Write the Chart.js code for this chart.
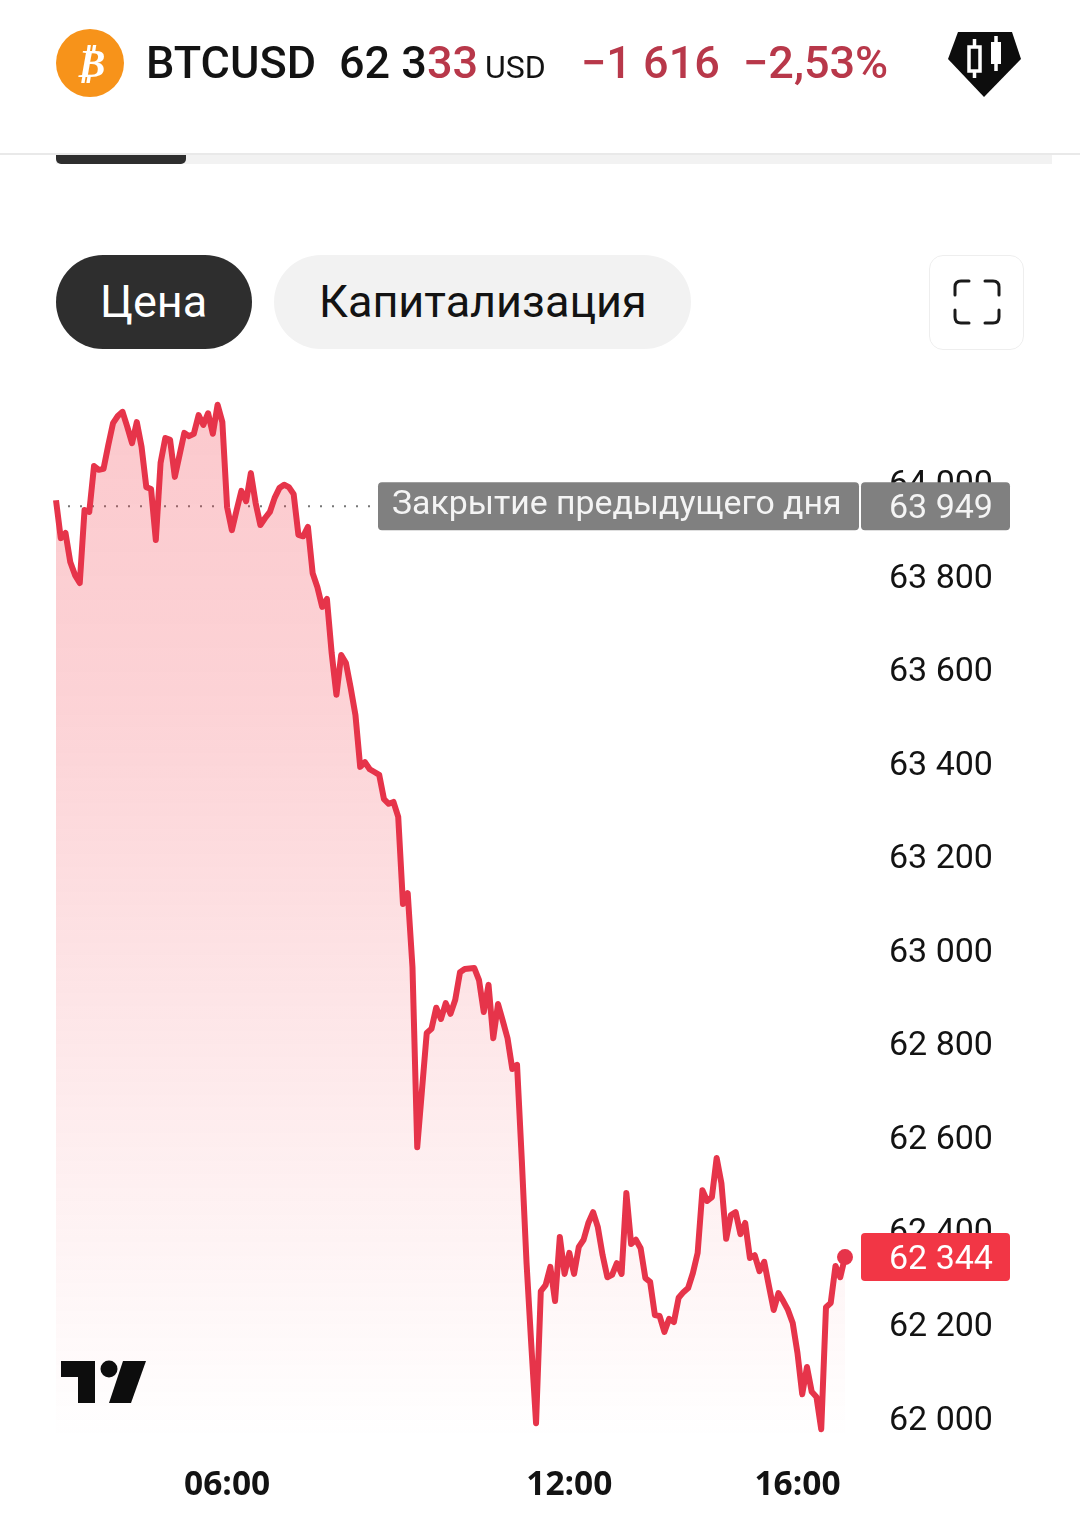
<!DOCTYPE html>
<html lang="ru">
<head>
<meta charset="utf-8">
<title>BTCUSD</title>
<script src="https://cdn.jsdelivr.net/npm/chart.js@4"></script>
<style>
  html, body { margin: 0; padding: 0; background: #fff; }
  body { width: 1080px; height: 1536px; position: relative; overflow: hidden; font-family: Roboto, sans-serif; }
  canvas { position: absolute; left: 0; top: 0; }
  .t { position: absolute; white-space: nowrap; line-height: 1; color: #131313; }
  .red { color: #b8384a; }
  .box { position: absolute; }
  svg { position: absolute; }
</style>
</head>
<body>
<canvas id="grafico" width="1080" height="1536"></canvas>

<!-- cabecera -->
<div class="box" style="left:56px;top:29px;width:68px;height:68px;border-radius:50%;background:#f7931a"></div>
<div class="t" style="left:76px;top:43px;font-size:40px;font-weight:700;font-style:italic;color:#fff;font-family:'DejaVu Sans'">₿</div>
<div class="t" style="left:146px;top:40px;font-size:45px;font-weight:500">BTCUSD</div>
<div class="t" style="left:339px;top:40px;font-size:45px;font-weight:500">62 3<span class="red">33</span></div>
<div class="t" style="left:485px;top:51px;font-size:32px;font-weight:400">USD</div>
<div class="t red" style="left:581px;top:40px;font-size:45px;font-weight:500">−1 616</div>
<div class="t red" style="left:743px;top:40px;font-size:45px;font-weight:500">−2,53%</div>
<svg style="left:945px;top:30px" width="80" height="70" viewBox="0 0 80 70">
  <path d="M13 2H67L76 29L39 67L3 29Z" fill="#0d0d0d"/>
  <rect x="24" y="17" width="11" height="24" fill="none" stroke="#fff" stroke-width="3.5"/>
  <path d="M29.500 9V17M29.500 41V48" stroke="#fff" stroke-width="3.5"/>
  <rect x="46" y="12" width="10" height="22" fill="#fff"/>
  <path d="M51 6V12M51 34V41" stroke="#fff" stroke-width="3.5"/>
</svg>

<div class="box" style="left:0;top:153px;width:1080px;height:2px;background:#e9e9e9"></div>
<div class="box" style="left:56px;top:155px;width:996px;height:9px;background:#f2f2f2"></div>
<div class="box" style="left:56px;top:155px;width:130px;height:9px;background:#2e2e2e;border-radius:0 0 5px 5px"></div>

<!-- botones -->
<div class="box" style="left:56px;top:255px;width:196px;height:94px;border-radius:47px;background:#2e2e2e"></div>
<div class="t" style="left:100px;top:279px;font-size:45px;color:#fff">Цена</div>
<div class="box" style="left:274px;top:255px;width:417px;height:94px;border-radius:47px;background:#f2f2f2"></div>
<div class="t" style="left:319px;top:279px;font-size:45px">Капитализация</div>
<div class="box" style="left:929px;top:255px;width:93px;height:93px;border-radius:14px;border:1.500px solid #eeeeee;box-sizing:content-box"></div>
<svg style="left:950px;top:276px" width="54" height="52" viewBox="0 0 54 52" fill="none" stroke="#1a1a1a" stroke-width="3" stroke-linecap="round">
  <path d="M5 19V11Q5 5 11 5H19M35 5H43Q49 5 49 11V19M49 34V41Q49 47 43 47H35M19 47H11Q5 47 5 41V34"/>
</svg>

<!-- logo -->
<svg style="left:0;top:1340px" width="170" height="80" viewBox="0 1340 170 80">
  <path d="M61 1361H95V1403H78V1377H61Z" fill="#0d0d0d"/>
  <circle cx="109" cy="1369" r="8.500" fill="#0d0d0d"/>
  <path d="M123 1361H146L131 1403H109Z" fill="#0d0d0d"/>
</svg>

<script>
// precios cada 5 minutos
const horas = [
  '03:00','03:05','03:10','03:15','03:20','03:25','03:30','03:35','03:40','03:45','03:50','03:55',
  '04:00','04:05','04:10','04:15','04:20','04:25','04:30','04:35','04:40','04:45','04:50','04:55',
  '05:00','05:05','05:10','05:15','05:20','05:25','05:30','05:35','05:40','05:45','05:50','05:55',
  '06:00','06:05','06:10','06:15','06:20','06:25','06:30','06:35','06:40','06:45','06:50','06:55',
  '07:00','07:05','07:10','07:15','07:20','07:25','07:30','07:35','07:40','07:45','07:50','07:55',
  '08:00','08:05','08:10','08:15','08:20','08:25','08:30','08:35','08:40','08:45','08:50','08:55',
  '09:00','09:05','09:10','09:15','09:20','09:25','09:30','09:35','09:40','09:45','09:50','09:55',
  '10:00','10:05','10:10','10:15','10:20','10:25','10:30','10:35','10:40','10:45','10:50','10:55',
  '11:00','11:05','11:10','11:15','11:20','11:25','11:30','11:35','11:40','11:45','11:50','11:55',
  '12:00','12:05','12:10','12:15','12:20','12:25','12:30','12:35','12:40','12:45','12:50','12:55',
  '13:00','13:05','13:10','13:15','13:20','13:25','13:30','13:35','13:40','13:45','13:50','13:55',
  '14:00','14:05','14:10','14:15','14:20','14:25','14:30','14:35','14:40','14:45','14:50','14:55',
  '15:00','15:05','15:10','15:15','15:20','15:25','15:30','15:35','15:40','15:45','15:50','15:55',
  '16:00','16:05','16:10','16:15','16:20','16:25','16:30','16:35','16:40','16:45','16:50'
];
const precios = [
  63962,63881,63892,63830,63802,63785,63941,63937,64035,64027,64029,64080,
  64127,64142,64151,64119,64084,64129,64076,63990,63986,63877,64042,64095,
  64091,64012,64059,64106,64099,64104,64144,64123,64148,64104,64166,64129,
  63947,63898,63941,63982,63960,64020,63956,63909,63924,63937,63967,63988,
  63995,63990,63975,63888,63885,63905,63806,63776,63734,63751,63635,63546,
  63631,63614,63561,63503,63392,63402,63387,63381,63375,63323,63313,63317,
  63285,63099,63122,62964,62579,62701,62823,62832,62877,62853,62887,62864,
  62894,62953,62960,62961,62962,62936,62868,62926,62812,62885,62849,62812,
  62746,62755,62552,62331,62156,61989,62271,62284,62323,62250,62387,62308,
  62353,62308,62366,62381,62417,62440,62408,62348,62301,62306,62331,62308,
  62481,62372,62381,62363,62299,62291,62220,62218,62184,62212,62205,62257,
  62269,62278,62310,62353,62487,62464,62472,62556,62502,62383,62434,62440,
  62393,62417,62342,62348,62314,62334,62282,62231,62267,62250,62231,62203,
  62139,62051,62109,62056,62045,61976,62237,62246,62325,62301,62344
];
const cierreAnterior = 63949;
const ultimoPrecio = 62344;
const horasEje = ['06:00','12:00','16:00'];
const ticksPrecio = [62000,62200,62400,62600,62800,63000,63200,63400,63600,63800,64000];
const textoCierre = 'Закрытие предыдущего дня';

const rojo = '#e6344a';

function fmt(v) {
  return String(v).replace(/(\d{2})(\d{3})/, '$1 $2');
}

function badge(ctx, x, y, w, h, color) {
  ctx.fillStyle = color;
  ctx.beginPath();
  ctx.roundRect(x, y, w, h, 4);
  ctx.fill();
}

// etiquetas sobre el eje de precios
const etiquetas = {
  id: 'etiquetas',
  afterDraw(chart) {
    const ctx = chart.ctx;
    const y = chart.scales.y;
    const yc = y.getPixelForValue(cierreAnterior);
    const yu = y.getPixelForValue(ultimoPrecio);
    ctx.save();
    badge(ctx, 378, yc - 24, 481, 48, '#808080');
    badge(ctx, 861, yc - 24, 149, 48, '#808080');
    badge(ctx, 861, yu - 24, 149, 48, '#f23645');
    ctx.textBaseline = 'middle';
    ctx.textAlign = 'left';
    ctx.fillStyle = '#f4f4f4';
    ctx.font = '400 33.800px Roboto';
    ctx.fillText(textoCierre, 392, yc - 1);
    ctx.font = '400 34px Roboto';
    ctx.fillText(fmt(cierreAnterior), 889, yc + 3);
    ctx.fillStyle = '#fff';
    ctx.fillText(fmt(ultimoPrecio), 889, yu + 3);
    ctx.restore();
  }
};

const graficoG = document.getElementById('grafico');
new Chart(graficoG, {
  type: 'line',
  data: {
    labels: horas,
    datasets: [{
      label: 'BTCUSD',
      data: precios,
      order: 1,
      clip: false,
      borderColor: rojo,
      borderWidth: 6,
      borderJoinStyle: 'round',
      tension: 0,
      pointRadius: c => c.dataIndex === precios.length - 1 ? 8 : 0,
      pointBackgroundColor: rojo,
      pointBorderWidth: 0,
      fill: 'start',
      backgroundColor: c => {
        const area = c.chart.chartArea;
        if (!area) return 'transparent';
        const g = c.chart.ctx.createLinearGradient(0, area.top, 0, area.bottom);
        g.addColorStop(0, 'rgba(242,54,69,0.27)');
        g.addColorStop(0.3, 'rgba(242,54,69,0.22)');
        g.addColorStop(0.7, 'rgba(242,54,69,0.09)');
        g.addColorStop(1, 'rgba(242,54,69,0)');
        return g;
      }
    }, {
      label: 'Закрытие',
      data: horas.map(() => cierreAnterior),
      order: 2,
      borderColor: '#777777',
      borderWidth: 2,
      borderDash: [2, 10],
      pointRadius: 0,
      fill: false
    }]
  },
  options: {
    responsive: false,
    animation: false,
    devicePixelRatio: 1,
    layout: { padding: { left: 56, top: 395, right: 0, bottom: 0 } },
    plugins: { legend: { display: false }, tooltip: { enabled: false } },
    scales: {
      x: {
        grid: { display: false },
        border: { display: false },
        afterFit: s => { s.height = 96; },
        ticks: {
          autoSkip: false,
          maxRotation: 0,
          padding: 17,
          color: '#131313',
          font: { family: 'Open Sans', size: 33.500, weight: 'bold' },
          callback: (v, i) => horasEje.includes(horas[i]) ? horas[i] : ''
        }
      },
      y: {
        position: 'right',
        min: 61953,
        max: 64187,
        grid: { display: false },
        border: { display: false },
        afterFit: s => { s.width = 235; },
        afterBuildTicks: s => { s.ticks = ticksPrecio.map(v => ({ value: v })); },
        ticks: {
          crossAlign: 'near',
          padding: 36,
          color: '#131313',
          // dos lineas de 6px bajan el texto 3px, como en la captura
          font: { family: 'Roboto', size: 34, weight: '400', lineHeight: '6px' },
          callback: v => ['', fmt(v)]
        }
      }
    }
  },
  plugins: [etiquetas]
});
</script>
</body>
</html>
